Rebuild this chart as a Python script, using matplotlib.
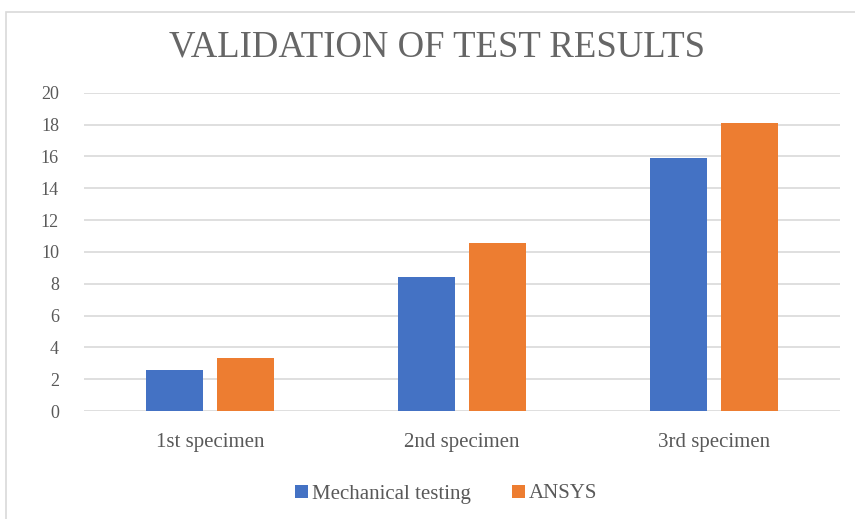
import numpy as np
import matplotlib
matplotlib.use('Agg')
import matplotlib.pyplot as plt
from matplotlib.patches import Rectangle

# data
categories = ['1st specimen', '2nd specimen', '3rd specimen']
mechanical = [2.55, 8.45, 15.88]
ansys = [3.3, 10.55, 18.1]
yticks = [0, 2, 4, 6, 8, 10, 12, 14, 16, 18, 20]

blue = '#4472C4'
orange = '#ED7D31'
grey_text = '#595959'
grid_col = '#D9D9D9'

plt.rcParams['font.family'] = ['Liberation Serif', 'DejaVu Serif']

fig = plt.figure(figsize=(8.55, 5.19), dpi=100)

# outer chart border
fig.patches.append(Rectangle((5.5 / 855, -0.05), 1.2, 1 - 12 / 519 + 0.05,
                             transform=fig.transFigure, fill=False,
                             edgecolor=grid_col, linewidth=1.2))

ax = fig.add_axes([84 / 855, 1 - 411 / 519, 756 / 855, (411 - 92.7) / 519])

x = np.arange(len(categories))
w = 0.226
off = 0.142
ax.bar(x - off, mechanical, width=w, color=blue, label='Mechanical testing', zorder=3)
ax.bar(x + off, ansys, width=w, color=orange, label='ANSYS', zorder=3)

ax.set_xlim(-0.5, 2.5)
ax.set_ylim(0, 20)
ax.set_yticks(yticks)
ax.set_xticks(x)
ax.set_xticklabels(categories)
ax.yaxis.grid(True, color=grid_col, linewidth=1.2, zorder=0)
ax.set_axisbelow(True)
for s in ax.spines.values():
    s.set_visible(False)
ax.tick_params(axis='y', length=0, pad=18, labelsize=13, labelcolor=grey_text)
ax.tick_params(axis='x', length=0, pad=16, labelsize=15, labelcolor=grey_text)

fig.text(0.511, 1 - 47 / 519, 'VALIDATION OF TEST RESULTS', ha='center', va='center',
         fontsize=26.5, color='#666666')

fig.legend(loc='center', bbox_to_anchor=(0.522, 1 - 494 / 519), ncol=2, frameon=False,
           fontsize=15, handlelength=0.6, handleheight=0.6, handletextpad=0.2,
           columnspacing=2.0, labelcolor=grey_text)

fig.savefig('out.png', dpi=100)
